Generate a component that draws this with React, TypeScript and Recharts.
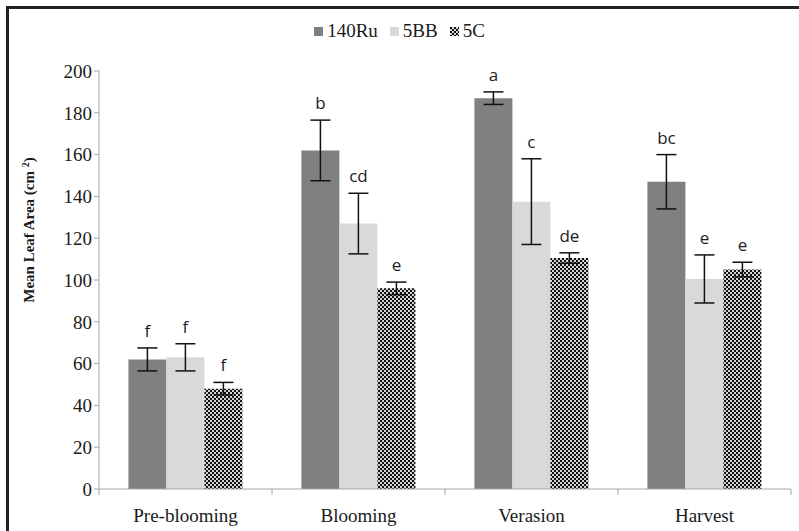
import React from "react";
import {
  BarChart,
  Bar,
  XAxis,
  YAxis,
  ErrorBar,
  LabelList,
  Legend,
} from "recharts";

// stages and per-rootstock means / standard errors
const stages = ["Pre-blooming", "Blooming", "Verasion", "Harvest"];

const ru140 = [62, 162, 187, 147];
const ru140Err = [5.5, 14.5, 3, 13];
const ru140Sig = ["f", "b", "a", "bc"];

const bb5 = [63, 127, 137.5, 100.5];
const bb5Err = [6.5, 14.5, 20.5, 11.5];
const bb5Sig = ["f", "cd", "c", "e"];

const c5 = [48, 96, 110.5, 105];
const c5Err = [3, 3, 2.5, 3.5];
const c5Sig = ["f", "e", "de", "e"];

const yTicks = [0, 20, 40, 60, 80, 100, 120, 140, 160, 180, 200];

const data = stages.map((stage, i) => ({
  stage,
  ru140: ru140[i],
  ru140Err: ru140Err[i],
  bb5: bb5[i],
  bb5Err: bb5Err[i],
  c5: c5[i],
  c5Err: c5Err[i],
}));

const W = 799;
const H = 531;
const PLOT_LEFT = 99;
const PLOT_RIGHT = 8;
const BAND = (W - PLOT_LEFT - PLOT_RIGHT) / stages.length;

const serif = "'Liberation Serif', 'Times New Roman', serif";
const sans = "'Open Sans', 'Liberation Sans', sans-serif";

// significance letter sitting above the error bar cap
const sigLabel = (letters: string[], errs: number[]) => (props: any) => {
  const { x, y, width, height, value, index } = props;
  const errPx = value ? (errs[index] * height) / value : 0;
  return (
    <text
      x={x + width / 2}
      y={y - errPx - 11}
      textAnchor="middle"
      fontFamily={sans}
      fontSize={17}
      fill="#1c1c1c"
    >
      {letters[index]}
    </text>
  );
};

const XTick = (props: any) => {
  const { x, y, payload, index } = props;
  const left = x - BAND / 2;
  return (
    <g>
      <line x1={left} y1={y - 8} x2={left} y2={y - 2} stroke="#a6a6a6" />
      {index === stages.length - 1 && (
        <line x1={x + BAND / 2} y1={y - 8} x2={x + BAND / 2} y2={y - 2} stroke="#a6a6a6" />
      )}
      <text
        x={x}
        y={y + 25}
        textAnchor="middle"
        fontFamily={serif}
        fontSize={19}
        fill="#1a1a1a"
      >
        {payload.value}
      </text>
    </g>
  );
};

const legendItems = [
  { name: "140Ru", fill: "#808080" },
  { name: "5BB", fill: "#d9d9d9" },
  { name: "5C", fill: "url(#dots)" },
];

const LegendBox = () => (
  <div
    style={{
      display: "flex",
      justifyContent: "center",
      alignItems: "center",
      gap: 12,
      fontFamily: serif,
      fontSize: 19,
      color: "#1a1a1a",
    }}
  >
    {legendItems.map((it) => (
      <div key={it.name} style={{ display: "flex", alignItems: "center", gap: 4 }}>
        <svg width={9} height={9}>
          <rect width={9} height={9} fill={it.fill} />
        </svg>
        <span>{it.name}</span>
      </div>
    ))}
  </div>
);

const YTitle = () => (
  <text
    x={0}
    y={0}
    transform="translate(34 230) rotate(-90)"
    textAnchor="middle"
    fontFamily={serif}
    fontWeight="bold"
    fontSize={15}
    fill="#1a1a1a"
  >
    Mean Leaf Area (cm <tspan dy={-5} fontSize={10}>2</tspan>
    <tspan dy={5}>)</tspan>
  </text>
);

export default function App() {
  return (
    <div
      style={{
        position: "absolute",
        left: 0,
        top: 0,
        width: W,
        height: H,
        overflow: "hidden",
        background: "#fff",
      }}
    >
      <div
        style={{
          position: "absolute",
          left: 6,
          top: 6,
          width: W,
          height: H,
          borderTop: "3px solid #222",
          borderLeft: "3px solid #222",
        }}
      />
      <BarChart
        width={W}
        height={H}
        data={data}
        margin={{ top: 71, right: PLOT_RIGHT, left: 0, bottom: 0 }}
        barCategoryGap="17%"
        barGap={0}
      >
        <defs>
          <pattern id="dots" width={4} height={4} patternUnits="userSpaceOnUse">
            <rect width={4} height={4} fill="#d4d4d4" />
            <rect x={0} y={0} width={2} height={2} fill="#111" />
            <rect x={2} y={2} width={2} height={2} fill="#111" />
          </pattern>
        </defs>
        <Legend
          verticalAlign="middle"
          content={<LegendBox />}
          wrapperStyle={{ top: 20, left: 0, width: W, height: 24 }}
        />
        <XAxis
          dataKey="stage"
          height={42}
          stroke="#a6a6a6"
          tickLine={false}
          tick={<XTick />}
          interval={0}
        />
        <YAxis
          width={PLOT_LEFT}
          domain={[0, 200]}
          ticks={yTicks}
          interval={0}
          stroke="#a6a6a6"
          tickSize={5}
          tick={{ fontFamily: serif, fontSize: 19, fill: "#1a1a1a" }}
          label={<YTitle />}
        />
        <Bar dataKey="ru140" fill="#808080" isAnimationActive={false}>
          <ErrorBar dataKey="ru140Err" width={10} stroke="#111" strokeWidth={1.5} />
          <LabelList dataKey="ru140" content={sigLabel(ru140Sig, ru140Err)} />
        </Bar>
        <Bar dataKey="bb5" fill="#d9d9d9" isAnimationActive={false}>
          <ErrorBar dataKey="bb5Err" width={10} stroke="#111" strokeWidth={1.5} />
          <LabelList dataKey="bb5" content={sigLabel(bb5Sig, bb5Err)} />
        </Bar>
        <Bar dataKey="c5" fill="url(#dots)" isAnimationActive={false}>
          <ErrorBar dataKey="c5Err" width={10} stroke="#111" strokeWidth={1.5} />
          <LabelList dataKey="c5" content={sigLabel(c5Sig, c5Err)} />
        </Bar>
      </BarChart>
    </div>
  );
}
